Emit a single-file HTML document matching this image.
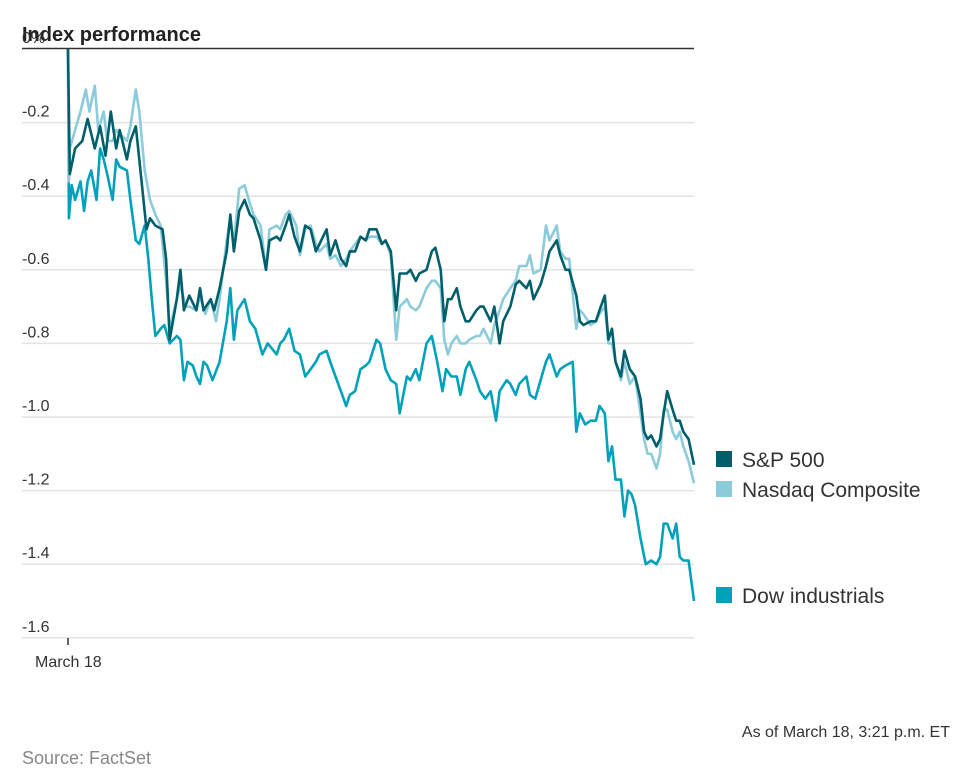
<!DOCTYPE html>
<html><head><meta charset="utf-8">
<style>
body{margin:0;background:#fff;font-family:"Liberation Sans",sans-serif;}
#wrap{position:relative;width:976px;height:780px;overflow:hidden;}
</style></head>
<body>
<div id="wrap">
<svg id="chart" width="976" height="780">
<text x="22" y="41" font-size="20" font-weight="bold" fill="#222">Index performance</text>
<g id="grid"></g>
<g id="lines"></g>
<line x1="22" y1="48.5" x2="694" y2="48.5" stroke="#333" stroke-width="1.5"/>
<line x1="68" y1="638" x2="68" y2="645" stroke="#333" stroke-width="1.5"/>
<text x="35" y="667" font-size="16" fill="#333">March 18</text>
<g><rect x="716" y="451" width="16" height="16" fill="#005f6b"/><text x="742" y="467" font-size="21" fill="#333">S&amp;P 500</text></g>
<g><rect x="716" y="481" width="16" height="16" fill="#8ccbd9"/><text x="742" y="497" font-size="21" fill="#333">Nasdaq Composite</text></g>
<g><rect x="716" y="587" width="16" height="16" fill="#00a2bb"/><text x="742" y="603" font-size="21" fill="#333">Dow industrials</text></g>
<text x="950" y="737" font-size="16" fill="#333" text-anchor="end">As of March 18, 3:21 p.m. ET</text>
<text x="22" y="764" font-size="18" fill="#888">Source: FactSet</text>
</svg>
</div>
<script>
const yTicks=[0,-0.2,-0.4,-0.6,-0.8,-1.0,-1.2,-1.4,-1.6];
const yTickLabels=["0%","-0.2","-0.4","-0.6","-0.8","-1.0","-1.2","-1.4","-1.6"];
const sessionMinutes=351;
// minutes after 9:30 a.m. open
const nasdaqTimes=[0,0.5,1,4,7,10,12,15,17,20,22,25,27,29,33,35,38,40,43,46,49,52,55,57,61,63,66,68,72,74,77,80,83,85,89,91,93,96,99,102,104,108,111,113,117,119,122,124,128,130,133,136,139,141,145,147,150,153,156,158,161,164,167,169,173,176,178,181,184,186,190,192,195,197,201,204,206,209,211,213,215,218,220,223,225,229,231,233,237,239,242,244,248,251,253,257,259,261,265,268,270,274,276,279,281,285,287,289,293,296,298,301,303,305,307,310,312,315,318,321,323,325,327,330,332,334,336,339,341,343,345,348,351];
const nasdaq=[0,-0.36,-0.27,-0.22,-0.17,-0.11,-0.17,-0.10,-0.22,-0.17,-0.25,-0.25,-0.22,-0.23,-0.25,-0.21,-0.11,-0.17,-0.33,-0.41,-0.45,-0.48,-0.63,-0.76,-0.68,-0.64,-0.70,-0.70,-0.71,-0.67,-0.72,-0.68,-0.74,-0.68,-0.52,-0.46,-0.53,-0.38,-0.37,-0.42,-0.45,-0.48,-0.60,-0.49,-0.48,-0.49,-0.45,-0.44,-0.48,-0.56,-0.49,-0.48,-0.53,-0.55,-0.53,-0.57,-0.56,-0.59,-0.57,-0.55,-0.53,-0.51,-0.52,-0.51,-0.51,-0.53,-0.52,-0.56,-0.79,-0.70,-0.68,-0.70,-0.71,-0.70,-0.65,-0.63,-0.63,-0.65,-0.79,-0.83,-0.80,-0.78,-0.80,-0.80,-0.79,-0.78,-0.78,-0.76,-0.80,-0.75,-0.71,-0.68,-0.65,-0.63,-0.59,-0.59,-0.56,-0.61,-0.60,-0.48,-0.52,-0.48,-0.55,-0.57,-0.57,-0.76,-0.71,-0.72,-0.75,-0.74,-0.72,-0.70,-0.80,-0.80,-0.85,-0.90,-0.85,-0.91,-0.89,-0.99,-1.06,-1.10,-1.10,-1.14,-1.10,-0.98,-0.98,-1.04,-1.06,-1.04,-1.08,-1.12,-1.18];
const dowTimes=[0,0.5,2,4,7,9,11,13,16,18,20,22,25,27,29,33,35,38,40,43,45,47,49,52,54,57,61,63,65,67,70,72,74,76,78,81,85,89,91,93,95,99,102,105,109,112,117,119,121,124,127,130,133,136,139,141,145,147,150,153,156,158,161,164,167,169,173,175,178,181,184,186,190,192,195,197,201,204,207,210,212,215,218,220,223,225,229,231,234,237,240,242,246,248,251,253,257,259,262,265,268,270,274,276,279,283,285,287,290,293,296,298,301,303,305,307,310,312,314,316,318,321,324,327,330,332,334,336,339,341,343,345,348,351];
const dow=[0,-0.46,-0.37,-0.41,-0.36,-0.44,-0.36,-0.33,-0.41,-0.27,-0.30,-0.34,-0.41,-0.30,-0.32,-0.33,-0.41,-0.52,-0.53,-0.48,-0.57,-0.68,-0.78,-0.76,-0.75,-0.80,-0.78,-0.79,-0.90,-0.85,-0.86,-0.89,-0.91,-0.85,-0.86,-0.90,-0.85,-0.74,-0.65,-0.79,-0.71,-0.68,-0.74,-0.76,-0.83,-0.80,-0.83,-0.80,-0.79,-0.76,-0.82,-0.83,-0.89,-0.87,-0.85,-0.83,-0.82,-0.85,-0.89,-0.93,-0.97,-0.94,-0.93,-0.87,-0.86,-0.85,-0.79,-0.80,-0.87,-0.90,-0.91,-0.99,-0.89,-0.90,-0.87,-0.90,-0.80,-0.78,-0.85,-0.93,-0.87,-0.89,-0.89,-0.94,-0.87,-0.85,-0.90,-0.93,-0.95,-0.93,-1.01,-0.93,-0.90,-0.91,-0.94,-0.91,-0.89,-0.94,-0.95,-0.90,-0.85,-0.83,-0.89,-0.87,-0.86,-0.85,-1.04,-0.99,-1.02,-1.01,-1.01,-0.97,-0.99,-1.12,-1.08,-1.17,-1.17,-1.27,-1.20,-1.21,-1.24,-1.33,-1.40,-1.39,-1.40,-1.38,-1.29,-1.29,-1.33,-1.29,-1.38,-1.39,-1.39,-1.50];
const sp500Times=[0,1,4,8,11,15,18,21,24,27,29,33,35,38,40,44,46,49,53,55,57,61,63,65,68,72,74,76,80,82,85,89,91,93,96,99,102,104,108,111,113,117,119,122,124,127,130,133,136,139,141,145,147,150,153,156,158,161,164,167,169,173,176,178,181,184,186,190,192,195,197,201,204,206,209,211,213,215,218,220,223,225,229,231,233,237,239,242,244,248,251,253,257,259,261,265,268,270,274,276,279,281,285,287,289,293,296,298,301,303,305,307,310,312,315,318,321,323,325,327,330,332,334,336,339,341,343,345,348,351];
const sp500=[0,-0.34,-0.27,-0.25,-0.19,-0.27,-0.21,-0.29,-0.17,-0.27,-0.22,-0.30,-0.25,-0.21,-0.30,-0.49,-0.46,-0.48,-0.49,-0.57,-0.79,-0.68,-0.60,-0.71,-0.67,-0.71,-0.65,-0.71,-0.68,-0.71,-0.65,-0.55,-0.45,-0.55,-0.44,-0.41,-0.45,-0.46,-0.52,-0.60,-0.52,-0.51,-0.52,-0.48,-0.45,-0.51,-0.55,-0.48,-0.49,-0.55,-0.53,-0.49,-0.56,-0.52,-0.57,-0.59,-0.55,-0.55,-0.51,-0.52,-0.49,-0.49,-0.53,-0.52,-0.55,-0.71,-0.61,-0.61,-0.60,-0.63,-0.61,-0.60,-0.55,-0.54,-0.60,-0.74,-0.68,-0.68,-0.65,-0.70,-0.74,-0.74,-0.71,-0.70,-0.70,-0.74,-0.70,-0.80,-0.74,-0.70,-0.64,-0.63,-0.65,-0.63,-0.68,-0.64,-0.59,-0.55,-0.52,-0.56,-0.60,-0.60,-0.67,-0.74,-0.75,-0.74,-0.74,-0.71,-0.67,-0.79,-0.76,-0.85,-0.89,-0.82,-0.87,-0.89,-0.95,-1.04,-1.06,-1.05,-1.08,-1.06,-0.99,-0.93,-0.98,-1.01,-1.01,-1.04,-1.06,-1.13];

const NS="http://www.w3.org/2000/svg";
const X0=68,X1=694,Y0=49,YPX=368;
function yScale(v){return Y0-v*YPX;}
function xScale(t){return X0+(X1-X0)*t/sessionMinutes;}
const grid=document.getElementById('grid');
yTicks.forEach((t,k)=>{
  const y=yScale(t);
  if(k>0){
    const l=document.createElementNS(NS,'line');
    l.setAttribute('x1',22);l.setAttribute('x2',694);
    l.setAttribute('y1',y);l.setAttribute('y2',y);
    l.setAttribute('stroke','#e3e3e3');l.setAttribute('stroke-width','1.5');
    
    
    grid.appendChild(l);
  }
  const tx=document.createElementNS(NS,'text');
  tx.setAttribute('x',22);tx.setAttribute('y',y-6);
  tx.setAttribute('font-size','16');tx.setAttribute('fill','#333');
  tx.textContent=yTickLabels[k];
  
  
  grid.appendChild(tx);
});
const lines=document.getElementById('lines');
function draw(times,data,color,name){
  const n=Math.min(times.length,data.length);
  const pts=[];
  for(let i=0;i<n;i++) pts.push(xScale(times[i]).toFixed(1)+','+yScale(data[i]).toFixed(1));
  const p=document.createElementNS(NS,'polyline');
  p.setAttribute('points',pts.join(' '));p.setAttribute('fill','none');
  p.setAttribute('stroke',color);p.setAttribute('stroke-width','2.6');
  p.setAttribute('stroke-linejoin','round');
  
  
  lines.appendChild(p);
}
draw(dowTimes,dow,'#00a2bb','dow-line');
draw(nasdaqTimes,nasdaq,'#8ccbd9','nasdaq-line');
draw(sp500Times,sp500,'#005f6b','sp500-line');
</script>
</body></html>
